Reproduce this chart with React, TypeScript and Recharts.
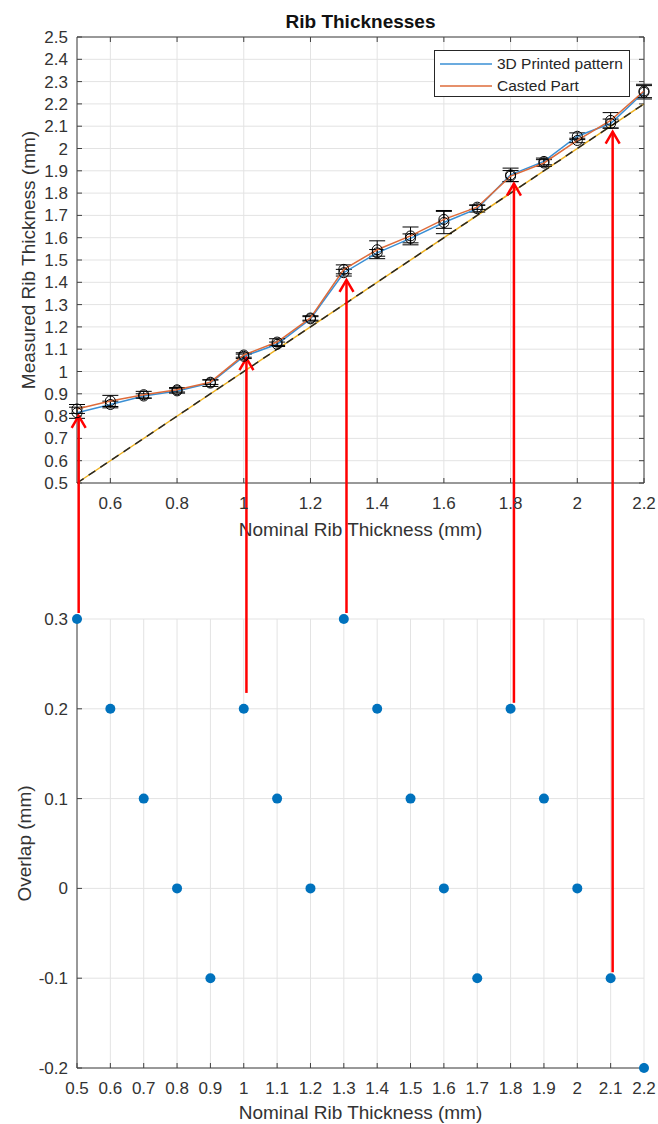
import React from 'react';
import {
  ComposedChart,
  ScatterChart,
  Line,
  Scatter,
  XAxis,
  YAxis,
  CartesianGrid,
  ErrorBar,
  ReferenceLine,
  Legend,
} from 'recharts';

// nominal rib thickness (mm), shared by both plots
const nominal = [0.5, 0.6, 0.7, 0.8, 0.9, 1.0, 1.1, 1.2, 1.3, 1.4, 1.5, 1.6, 1.7, 1.8, 1.9, 2.0, 2.1, 2.2];

// measured thickness (mm) + error bar half-widths
const printed = [0.815, 0.852, 0.89, 0.913, 0.948, 1.068, 1.122, 1.236, 1.443, 1.532, 1.597, 1.668, 1.73, 1.882, 1.942, 2.055, 2.112, 2.252];
const casted = [0.832, 0.868, 0.896, 0.918, 0.952, 1.074, 1.132, 1.24, 1.458, 1.546, 1.608, 1.682, 1.737, 1.876, 1.935, 2.036, 2.126, 2.258];
const printedErr = [0.025, 0.015, 0.01, 0.01, 0.015, 0.01, 0.01, 0.01, 0.015, 0.015, 0.02, 0.05, 0.015, 0.03, 0.015, 0.015, 0.02, 0.03];
const castedErr = [0.02, 0.025, 0.015, 0.01, 0.01, 0.01, 0.015, 0.01, 0.02, 0.04, 0.04, 0.04, 0.01, 0.025, 0.015, 0.01, 0.035, 0.03];

// ideal measured = nominal
const idealLine = [{ x: 0.5, y: 0.5 }, { x: 2.2, y: 2.2 }];

// overlap (mm)
const overlap = [0.3, 0.2, 0.1, 0, -0.1, 0.2, 0.1, 0, 0.3, 0.2, 0.1, 0, -0.1, 0.2, 0.1, 0, -0.1, -0.2];

// red annotation arrows: x, tip in the top plot, tail in the bottom plot
const arrowX = [0.505, 1.008, 1.308, 1.81, 2.106];
const arrowTip = [0.805, 1.064, 1.415, 1.847, 2.08];
const arrowTail = [0.3, 0.211, 0.3, 0.2, -0.1];

const topXTicks = [0.6, 0.8, 1, 1.2, 1.4, 1.6, 1.8, 2, 2.2];
const topYTicks = [0.5, 0.6, 0.7, 0.8, 0.9, 1, 1.1, 1.2, 1.3, 1.4, 1.5, 1.6, 1.7, 1.8, 1.9, 2, 2.1, 2.2, 2.3, 2.4, 2.5];
const bottomXTicks = [0.5, 0.6, 0.7, 0.8, 0.9, 1, 1.1, 1.2, 1.3, 1.4, 1.5, 1.6, 1.7, 1.8, 1.9, 2, 2.1, 2.2];
const bottomYTicks = [-0.2, -0.1, 0, 0.1, 0.2, 0.3];

const W = 658;
const TOP_H = 550;
const BOT_H = 574;
const FONT = "'Liberation Sans', Arial, Helvetica, sans-serif";
const AXIS = '#404040';
const GRID = '#e3e3e3';
const TEXT = '#333';
const BLUE = '#3a8fd4';
const ORANGE = '#de6b3a';
const RED = '#ff0000';
const TAIL_GAP = 6;

const fmt = (v: number) => String(Math.round(v * 10) / 10);
const tickStyle = { fontSize: 17, fill: TEXT };
const noTick = () => <g />;

const XTitle = ({ viewBox, value, dy }: any) => (
  <text
    x={viewBox.x + viewBox.width / 2}
    y={viewBox.y + dy}
    textAnchor="middle"
    dominantBaseline="central"
    fontSize={19}
    fill={TEXT}
  >
    {value}
  </text>
);

const TopTitle = ({ viewBox, value, titleY }: any) => (
  <text
    x={viewBox.x + viewBox.width / 2}
    y={titleY}
    textAnchor="middle"
    dominantBaseline="central"
    fontSize={19}
    fontWeight="bold"
    fill="#111"
  >
    {value}
  </text>
);

const YTitle = ({ viewBox, value, cx }: any) => {
  const cy = viewBox.y + viewBox.height / 2;
  return (
    <text
      x={cx}
      y={cy}
      transform={`rotate(-90 ${cx} ${cy})`}
      textAnchor="middle"
      dominantBaseline="central"
      fontSize={19}
      fill={TEXT}
    >
      {value}
    </text>
  );
};

// arrow head + shaft down to the bottom edge of the top chart
const ArrowHead = (p: any) => {
  const { cx, cy } = p;
  return (
    <g stroke={RED} strokeWidth={2.5} fill="none">
      <line x1={cx} y1={cy + 1} x2={cx} y2={TOP_H} />
      <polyline points={`${cx - 7},${cy + 13} ${cx},${cy + 1} ${cx + 7},${cy + 13}`} />
    </g>
  );
};

// shaft from just above the overlap point up to the top edge of the bottom chart
const ArrowTail = (p: any) => {
  const { cx, cy } = p;
  return <line x1={cx} y1={cy - TAIL_GAP} x2={cx} y2={0} stroke={RED} strokeWidth={2.5} />;
};

const BlueDot = (p: any) => <circle cx={p.cx} cy={p.cy} r={5} fill="#0072BD" />;

const renderLegend = (props: any) => {
  const items = (props.payload || []).filter((e: any) => e.type !== 'none');
  return (
    <div
      style={{
        width: 196,
        height: 47,
        boxSizing: 'border-box',
        border: '1px solid #262626',
        background: '#fff',
        padding: '2px 0 0 5px',
        fontFamily: FONT,
      }}
    >
      {items.map((entry: any) => (
        <div key={entry.value} style={{ display: 'flex', alignItems: 'center', height: 22 }}>
          <svg width={52} height={4}>
            <line x1={0} y1={2} x2={52} y2={2} stroke={entry.color} strokeWidth={1.5} />
          </svg>
          <span style={{ marginLeft: 5, fontSize: 15.5, color: '#262626' }}>{entry.value}</span>
        </div>
      ))}
    </div>
  );
};

export default function App() {
  const topData = nominal.map((x, i) => ({
    x,
    printed: printed[i],
    casted: casted[i],
    printedErr: printedErr[i],
    castedErr: castedErr[i],
  }));
  const overlapData = nominal.map((x, i) => ({ x, y: overlap[i] }));
  const tipData = arrowX.map((x, i) => ({ x, y: arrowTip[i] }));
  const tailData = arrowX.map((x, i) => ({ x, y: arrowTail[i] }));

  return (
    <div
      style={{
        position: 'absolute',
        left: 0,
        top: 0,
        width: W,
        height: TOP_H + BOT_H,
        background: '#fff',
        fontFamily: FONT,
      }}
    >
      <div style={{ position: 'absolute', left: 0, top: 0 }}>
        <ComposedChart
          width={W}
          height={TOP_H}
          data={topData}
          margin={{ top: 36, right: 13, bottom: 17, left: 17 }}
        >
          <CartesianGrid stroke={GRID} />
          <XAxis
            dataKey="x"
            type="number"
            domain={[0.5, 2.2]}
            ticks={topXTicks}
            interval={0}
            height={50}
            tickSize={-5}
            tickMargin={19}
            tick={tickStyle}
            tickFormatter={fmt}
            stroke={AXIS}
            label={<XTitle value="Nominal Rib Thickness (mm)" dy={46} />}
          />
          <XAxis
            xAxisId="top"
            dataKey="x"
            orientation="top"
            type="number"
            domain={[0.5, 2.2]}
            allowDataOverflow
            ticks={topXTicks}
            interval={0}
            height={1}
            tickSize={-5}
            tick={noTick}
            stroke={AXIS}
            label={<TopTitle value="Rib Thicknesses" titleY={21} />}
          />
          <YAxis
            type="number"
            domain={[0.5, 2.5]}
            ticks={topYTicks}
            interval={0}
            width={60}
            tickSize={-5}
            tickMargin={14}
            tick={tickStyle}
            tickFormatter={fmt}
            stroke={AXIS}
            label={<YTitle value="Measured Rib Thickness (mm)" cx={28} />}
          />
          <YAxis
            yAxisId="r"
            orientation="right"
            type="number"
            domain={[0.5, 2.5]}
            allowDataOverflow
            ticks={topYTicks}
            interval={0}
            width={1}
            tickSize={-5}
            tick={noTick}
            stroke={AXIS}
          />
          <ReferenceLine segment={idealLine} stroke="#EDB120" strokeWidth={1.5} />
          <ReferenceLine segment={idealLine} stroke="#262626" strokeWidth={1.5} strokeDasharray="8 6" />
          <Line
            dataKey="printed"
            name="3D Printed pattern"
            stroke={BLUE}
            strokeWidth={1.5}
            dot={{ r: 5, stroke: '#000', strokeWidth: 1, fill: 'none' }}
            activeDot={false}
            isAnimationActive={false}
          >
            <ErrorBar dataKey="printedErr" width={8} stroke="#000" strokeWidth={1} direction="y" />
          </Line>
          <Line
            dataKey="casted"
            name="Casted Part"
            stroke={ORANGE}
            strokeWidth={1.5}
            dot={{ r: 5, stroke: '#000', strokeWidth: 1, fill: 'none' }}
            activeDot={false}
            isAnimationActive={false}
          >
            <ErrorBar dataKey="castedErr" width={8} stroke="#000" strokeWidth={1} direction="y" />
          </Line>
          <Scatter data={tipData} dataKey="y" shape={ArrowHead} legendType="none" isAnimationActive={false} />
          <Legend
            layout="vertical"
            align="center"
            verticalAlign="middle"
            content={renderLegend}
            wrapperStyle={{ left: 434, top: 50, width: 196, height: 47 }}
          />
        </ComposedChart>
      </div>

      <div style={{ position: 'absolute', left: 0, top: TOP_H }}>
        <ScatterChart width={W} height={BOT_H} margin={{ top: 69, right: 14, bottom: 6, left: 17 }}>
          <CartesianGrid stroke={GRID} />
          <XAxis
            dataKey="x"
            type="number"
            domain={[0.5, 2.2]}
            ticks={bottomXTicks}
            interval={0}
            height={50}
            tickSize={-5}
            tickMargin={19}
            tick={tickStyle}
            tickFormatter={fmt}
            stroke={AXIS}
            label={<XTitle value="Nominal Rib Thickness (mm)" dy={44} />}
          />
          <YAxis
            dataKey="y"
            type="number"
            domain={[-0.2, 0.3]}
            ticks={bottomYTicks}
            interval={0}
            width={60}
            tickSize={-5}
            tickMargin={14}
            tick={tickStyle}
            tickFormatter={fmt}
            stroke={AXIS}
            label={<YTitle value="Overlap (mm)" cx={24} />}
          />
          <Scatter data={overlapData} shape={BlueDot} isAnimationActive={false} />
          <Scatter data={tailData} shape={ArrowTail} isAnimationActive={false} />
        </ScatterChart>
      </div>
    </div>
  );
}
